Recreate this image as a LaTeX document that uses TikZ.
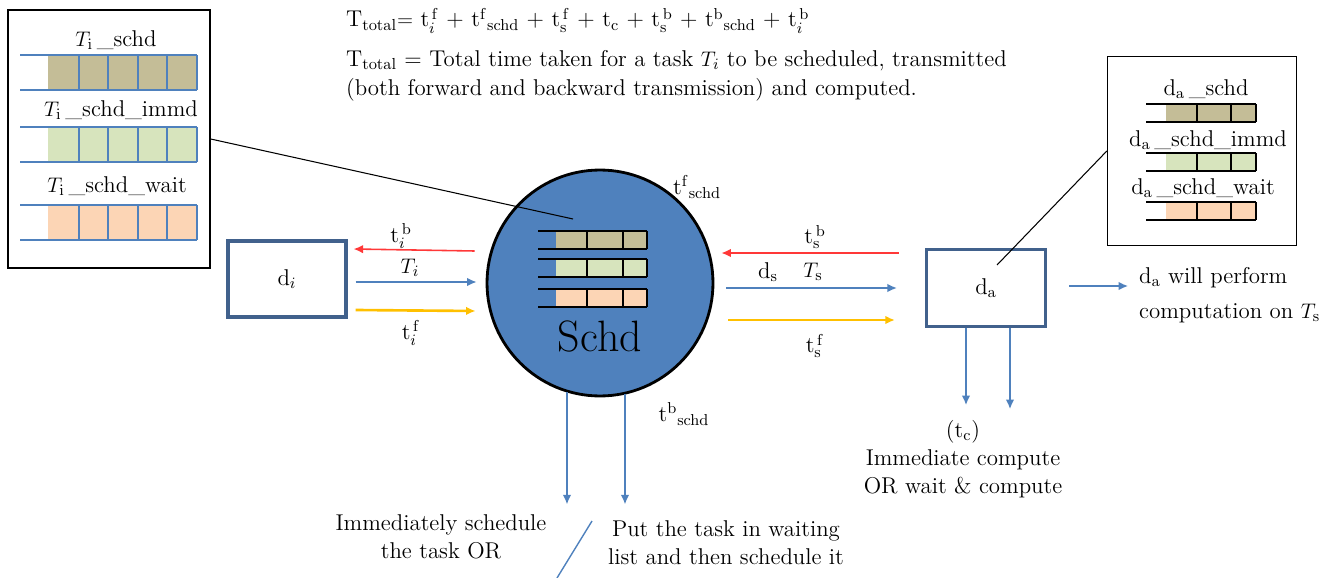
\documentclass[tikz,border=0pt]{standalone}
\usepackage{amsmath,amssymb}
\usepackage{tikz}
\usetikzlibrary{arrows.meta, positioning, calc}

\definecolor{qtan}{HTML}{C4BD97}
\definecolor{qgreen}{HTML}{D7E4BD}
\definecolor{qpeach}{HTML}{FCD5B5}
\definecolor{schdblue}{HTML}{4F81BD}
\definecolor{lineblue}{HTML}{4F81BD}
\definecolor{devblue}{HTML}{41618C}
\definecolor{backred}{HTML}{FF3838}
\definecolor{fwdyellow}{HTML}{FFC000}

\begin{document}
\begin{tikzpicture}[
    x=0.02cm, y=-0.02cm,
    font=\fontsize{13}{16}\selectfont,
    panel/.style={draw, line width=0.8pt, minimum width=4.04cm, minimum height=5.16cm},
    device/.style={draw=devblue, line width=1.8pt, minimum width=2.36cm, minimum height=1.52cm},
    arrow/.style={->, >={Latex[length=1.9mm,width=1.7mm]}, line width=0.9pt},
    qline/.style={line width=0.8pt},
    leader/.style={line width=0.6pt}
]
    \useasboundingbox (0,0) rectangle (1333,578);

    % formula
    \node[anchor=base west] (ftot) at (340,27) {T\textsubscript{total}$=$ t$_i^{\,\mathrm f}$ + t$^{\mathrm f}{}_{\mathrm{schd}}$ + t$_{\mathrm s}^{\,\mathrm f}$ + t$_{\mathrm c}$ + t$_{\mathrm s}^{\,\mathrm b}$ + t$^{\mathrm b}{}_{\mathrm{schd}}$ + t$_i^{\,\mathrm b}$};
    \node[anchor=base west] (fdef) at (340,66) {T\textsubscript{total} = Total time taken for a task $T_i$ to be scheduled, transmitted};
    \node[anchor=base west] (fdef2) at (340,95) {(both forward and backward transmission) and computed.};

    % queues of the scheduler
    \node[panel] (boxL) at (109,139) {};
    \node (lblL1) at (116,40) {$T_{\mathrm i}$\,\_schd};
    \node (lblL2) at (121,110) {$T_{\mathrm i}$\,\_schd\_immd};
    \node (lblL3) at (117,186) {$T_{\mathrm i}$\,\_schd\_wait};
    \foreach \y/\c in {55/qtan, 127/qgreen, 205/qpeach} {
        \fill[\c] (48,\y) rectangle (197,\y+35);
        \draw[qline, lineblue] (20,\y) -- (197,\y) (20,\y+35) -- (197,\y+35);
        \foreach \x in {79,108,138,167,197}
            \draw[qline, lineblue] (\x,\y) -- (\x,\y+35);
    }

    % queues of the device
    \node[panel, minimum width=3.78cm, minimum height=3.78cm] (boxR) at (1202,151) {};
    \node (lblR1) at (1206,89) {d$_{\mathrm a}$\,\_schd};
    \node (lblR2) at (1208,140) {d$_{\mathrm a}$\,\_schd\_immd};
    \node (lblR3) at (1203,188) {d$_{\mathrm a}$\,\_schd\_wait};
    \foreach \y/\c in {104/qtan, 153/qgreen, 202/qpeach} {
        \fill[\c] (1166,\y) rectangle (1256,\y+18);
        \draw[qline] (1146,\y) -- (1256,\y) (1146,\y+18) -- (1256,\y+18);
        \foreach \x in {1197,1231,1256}
            \draw[qline] (\x,\y) -- (\x,\y+18);
    }

    % scheduler
    \node[circle, draw, fill=schdblue, line width=1.6pt, minimum size=4.52cm] (schd) at (600,283) {};
    \foreach \y/\c in {231/qtan, 259/qgreen, 289/qpeach} {
        \fill[\c] (556,\y) rectangle (647,\y+18);
        \draw[qline] (538,\y) -- (647,\y) (538,\y+18) -- (647,\y+18);
        \foreach \x in {587,623,647}
            \draw[qline] (\x,\y) -- (\x,\y+18);
    }
    \node[font=\fontsize{25}{30}\selectfont] (schdlbl) at (600,336) {Schd};

    % devices
    \node[device] (di) at (287,279) {d$_i$};
    \node[device, minimum width=2.38cm, minimum height=1.54cm] (da) at (986,288) {d$_{\mathrm a}$};

    \draw[leader] (boxL.east) -- ($(schd.center)+(-27,-64)$);
    \draw[leader] (boxR.west) -- ($(da.center)+(11,-23)$);

    % d_i <-> Schd
    \draw[arrow, backred] ($(schd.west)+(-11,-32)$) -- ($(di.east)+(6,-30)$);
    \draw[arrow, lineblue] ($(di.east)+(8,3)$) -- ($(schd.west)+(-9,-1)$);
    \draw[arrow, fwdyellow, line width=1.5pt] ($(di.east)+(8,31)$) -- ($(schd.west)+(-10,28)$);
    \node (tib) at (401,236) {t$_i^{\,\mathrm b}$};
    \node (Ti) at (410,268) {$T_i$};
    \node (tif) at (411,333) {t$_i^{\,\mathrm f}$};

    % Schd <-> d_a
    \draw[arrow, backred] ($(da.west)+(-26,-35)$) -- ($(schd.east)+(7,-30)$);
    \draw[arrow, lineblue] ($(schd.east)+(12,5)$) -- ($(da.west)+(-28,0)$);
    \draw[arrow, fwdyellow, line width=1.5pt] ($(schd.east)+(14,37)$) -- ($(da.west)+(-30,32)$);
    \node (tsb) at (815,237) {t$_{\mathrm s}^{\,\mathrm b}$};
    \node (ds) at (768,272) {d$_{\mathrm s}$};
    \node (Ts) at (813,272) {$T_{\mathrm s}$};
    \node (tsf) at (815,346) {t$_{\mathrm s}^{\,\mathrm f}$};

    \node (tfschd) at (697,187) {t$^{\mathrm f}{}_{\mathrm{schd}}$};
    \node (tbschd) at (684,414) {t$^{\mathrm b}{}_{\mathrm{schd}}$};

    % outcomes of Schd
    \draw[arrow, lineblue] ($(schd.south)+(-33,-5)$) -- ($(schd.south)+(-33,107)$);
    \draw[arrow, lineblue] ($(schd.south)+(25,-3)$) -- ($(schd.south)+(25,107)$);
    \node[align=center] (immd) at (441,537) {Immediately schedule\\the task OR};
    \node[align=center] (wait) at (726,543) {Put the task in waiting\\list and then schedule it};
    \draw[lineblue, qline] (592,521) -- (557,578);

    % outcomes of d_a
    \draw[arrow, lineblue] ($(da.south)+(-20,0)$) -- ($(da.south)+(-20,77)$);
    \draw[arrow, lineblue] ($(da.south)+(24,0)$) -- ($(da.south)+(24,81)$);
    \node[align=center] (tc) at (963,459) {(t$_{\mathrm c}$)\\Immediate compute\\OR wait \& compute};
    \draw[arrow, lineblue] ($(da.east)+(22,-2)$) -- ($(da.east)+(81,-2)$);
    \node[anchor=west, align=left] (perf) at (1133,295) {d$_{\mathrm a}$ will perform\\[4pt]computation on $T_{\mathrm s}$};
\end{tikzpicture}
\end{document}
